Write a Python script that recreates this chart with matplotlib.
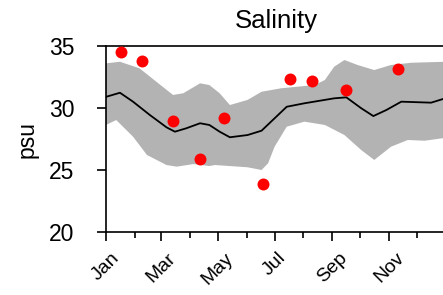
import numpy as np
import matplotlib
matplotlib.use("Agg")
import matplotlib.pyplot as plt
from matplotlib.ticker import FixedLocator

plt.rcParams['font.family'] = ['Liberation Sans', 'DejaVu Sans']

# climatology (day of year, psu)
mean_day = [0, 15, 29, 47, 65, 74, 86, 101, 111, 122, 133, 152, 167, 181, 194,
            213, 245, 258, 274, 287, 301, 317, 349, 365]
mean_psu = [30.9, 31.23, 30.51, 29.44, 28.44, 28.09, 28.36, 28.77, 28.63, 28.09,
            27.64, 27.82, 28.17, 29.17, 30.1, 30.38, 30.78, 30.86, 29.98, 29.35,
            29.84, 30.51, 30.43, 30.8]

upper_day = [0, 15, 36, 54, 72, 83, 101, 111, 122, 133, 152, 167, 188, 224, 235,
             245, 256, 270, 288, 306, 328, 365]
upper_psu = [33.6, 33.73, 33.2, 32.12, 31.05, 31.19, 31.99, 31.85, 31.19, 30.24,
             30.65, 31.31, 31.59, 31.85, 32.26, 33.33, 33.87, 33.47, 33.06, 33.47,
             33.65, 33.73]

lower_day = [0, 11, 29, 44, 65, 76, 94, 111, 117, 152, 167, 174, 181, 194, 213,
             235, 256, 274, 288, 306, 324, 342, 365]
lower_psu = [28.63, 29.03, 27.69, 26.21, 25.4, 25.27, 25.48, 25.32, 25.4, 25.22,
             25.0, 25.54, 26.88, 28.49, 28.9, 28.63, 27.82, 26.61, 25.81, 26.88,
             27.42, 27.36, 27.6]

# observations
obs_day = [16, 39, 72, 101, 127, 169, 197, 221, 258, 314]
obs_psu = [34.49, 33.79, 28.95, 25.89, 29.17, 23.85, 32.34, 32.2, 31.48, 33.15]

month_start = [0, 31, 59, 90, 120, 151, 181, 212, 243, 273, 304, 334]
month_names = ['Jan', 'Feb', 'Mar', 'Apr', 'May', 'Jun',
               'Jul', 'Aug', 'Sep', 'Oct', 'Nov', 'Dec']

fig = plt.figure(figsize=(4.43, 2.95), dpi=100)
ax = fig.add_axes([106 / 443, 63 / 295, 340 / 443, 186 / 295])

ax.fill(np.r_[upper_day, lower_day[::-1]], np.r_[upper_psu, lower_psu[::-1]],
        color='#b3b3b3', lw=0, zorder=1)
ax.plot(mean_day, mean_psu, color='black', lw=1.3, zorder=2,
        solid_joinstyle='round')
ax.plot(obs_day, obs_psu, 'o', color='red', ms=8.6, mec='none', zorder=3,
        clip_on=False)

ax.set_xlim(0, 365)
ax.set_ylim(20, 35)
ax.set_yticks([20, 25, 30, 35])
ax.xaxis.set_major_locator(FixedLocator(month_start[::2]))
ax.xaxis.set_minor_locator(FixedLocator(month_start[1::2]))
ax.set_xticklabels(month_names[::2], rotation=45, fontsize=14)

ax.tick_params(axis='y', labelsize=16.5, length=6.5, width=1.2, pad=16)
ax.tick_params(axis='x', which='major', length=6.5, width=1.2, pad=6)
ax.tick_params(axis='x', which='minor', length=4, width=1.2)

for s in ['left', 'bottom', 'top']:
    ax.spines[s].set_linewidth(1.2)
ax.spines['right'].set_visible(False)

ax.set_ylabel('psu', fontsize=16.5, labelpad=8)
ax.set_title('Salinity', fontsize=18.5, pad=13)

fig.savefig('out.png', dpi=100)
